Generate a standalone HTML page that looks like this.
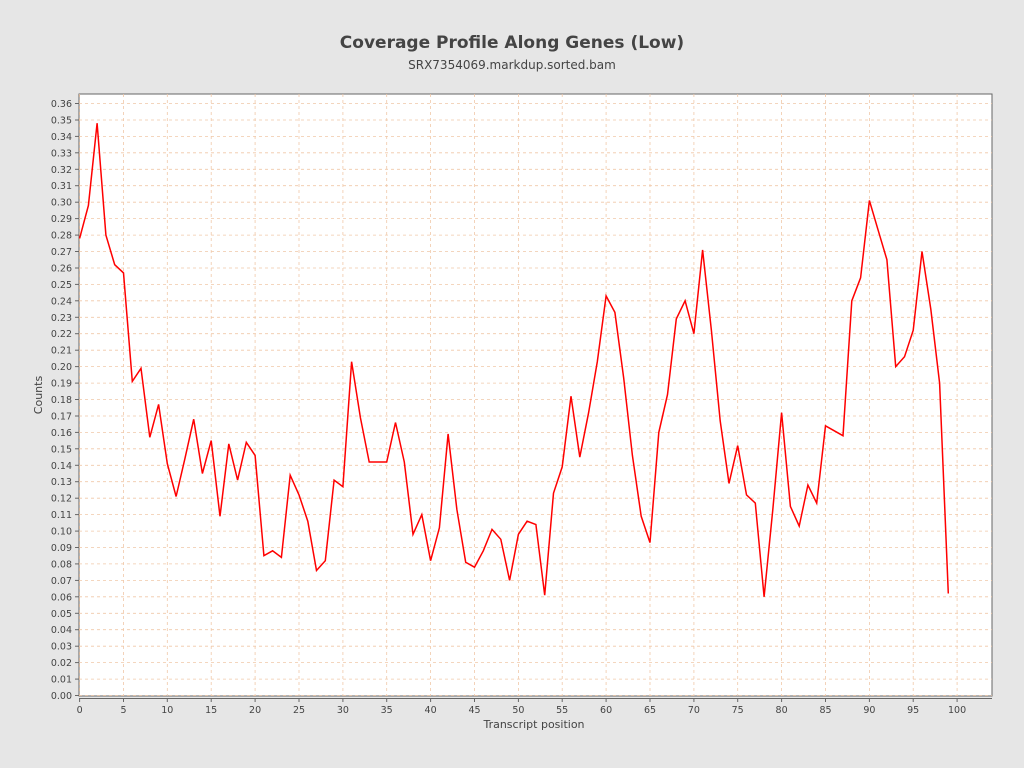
<!DOCTYPE html>
<html><head><meta charset="utf-8"><style>
body{margin:0;background:#e6e6e6;font-family:"DejaVu Sans","Liberation Sans",sans-serif;}
svg{display:block}
</style></head><body>
<svg id="s" width="1024" height="768" xmlns="http://www.w3.org/2000/svg">
<rect width="1024" height="768" fill="#e6e6e6"/>
<text x="512" y="48" text-anchor="middle" font-size="17" font-weight="bold" fill="#444" font-family="DejaVu Sans, sans-serif">Coverage Profile Along Genes (Low)</text>
<text x="512" y="69" text-anchor="middle" font-size="12" fill="#444" font-family="DejaVu Sans, sans-serif">SRX7354069.markdup.sorted.bam</text>
<rect x="79" y="94" width="913" height="602" fill="#fff" stroke="#666" stroke-width="1"/>
<g id="g"></g>
<text x="534" y="728" text-anchor="middle" font-size="11" fill="#444" font-family="DejaVu Sans, sans-serif">Transcript position</text>
<text transform="translate(42,395) rotate(-90)" text-anchor="middle" font-size="11" fill="#444" font-family="DejaVu Sans, sans-serif">Counts</text>
</svg>
<script>
var d=[0.278,0.298,0.348,0.280,0.262,0.257,0.191,0.199,0.157,0.177,0.141,0.121,0.144,0.168,0.135,0.155,0.109,0.153,0.131,0.154,0.146,0.085,0.088,0.084,0.134,0.122,0.106,0.076,0.082,0.131,0.127,0.203,0.169,0.142,0.142,0.142,0.166,0.142,0.098,0.110,0.082,0.102,0.159,0.113,0.081,0.078,0.088,0.101,0.095,0.070,0.098,0.106,0.104,0.061,0.123,0.139,0.182,0.145,0.172,0.203,0.243,0.233,0.193,0.146,0.109,0.093,0.160,0.183,0.229,0.240,0.220,0.271,0.222,0.167,0.129,0.152,0.122,0.117,0.060,0.113,0.172,0.115,0.103,0.128,0.117,0.164,0.161,0.158,0.240,0.254,0.301,0.283,0.265,0.200,0.206,0.222,0.270,0.235,0.190,0.062];
function X(v){return 79.6+v*8.775}function Y(v){return 695.5-v*1644.4}
var h='';
for(var i=0;i<=36;i++){var y=Y(i/100).toFixed(1);
h+='<line x1="79" x2="992" y1="'+y+'" y2="'+y+'" stroke="#f0c8a8" stroke-dasharray="3,3" stroke-width="0.8"/>';
h+='<line x1="75" x2="79" y1="'+y+'" y2="'+y+'" stroke="#666"/>';
h+='<text x="72" y="'+(+y+3.5)+'" text-anchor="end" font-size="9.5" fill="#444">'+(i/100).toFixed(2)+'</text>';}
for(var i=0;i<=100;i+=5){var x=X(i).toFixed(1);
h+='<line y1="94" y2="696" x1="'+x+'" x2="'+x+'" stroke="#f0c8a8" stroke-dasharray="3,3" stroke-width="0.8"/>';
h+='<line y1="698" y2="702" x1="'+x+'" x2="'+x+'" stroke="#666"/>';
h+='<text x="'+x+'" y="713" text-anchor="middle" font-size="9.5" fill="#444">'+i+'</text>';}
h+='<line x1="79" x2="992" y1="698.5" y2="698.5" stroke="#666"/>';
var p=d.map(function(v,i){return X(i).toFixed(1)+','+Y(v).toFixed(1)}).join(' ');
h+='<polyline points="'+p+'" fill="none" stroke="#f00" stroke-width="1.5"/>';
document.getElementById('g').innerHTML=h;
</script>
</body></html>
